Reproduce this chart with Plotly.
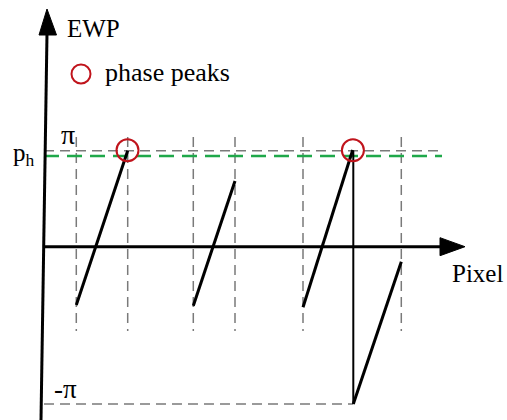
import plotly.graph_objects as go

# Wrapped phase (EWP) along the pixel axis, in drawing units
# (origin where the axes cross, y grows upward)
PI_LEVEL = 96.0
NEG_PI_LEVEL = -157.3
PH_LEVEL = 90.7

# pixel positions of the dashed guides
guide_x = [32.3, 83.7, 149.3, 191.0, 259.0, 357.3]
guide_top = 109.7
guide_bottom = -84.3

# phase ramps: start/end pixel and start/end phase
ramp_x0 = [32.3, 149.3, 259.0, 309.3]
ramp_x1 = [83.7, 191.0, 308.7, 357.3]
ramp_y0 = [-58.3, -59.0, -60.6, NEG_PI_LEVEL]
ramp_y1 = [96.0, 65.7, 96.7, -15.0]

# wrap jump (from +pi down to -pi)
jump_x = 309.3

# detected phase peaks
peak_x = [83.5, 308.9]
peak_y = [96.5, 96.5]

X_RANGE = [-44, 463]
Y_RANGE = [-173.3, 246.7]

SERIF = "Liberation Serif, Times New Roman, serif"
GRAY = "#7a7a7a"
GREEN = "#1fa84a"
RED = "#c0141c"

fig = go.Figure()

# dashed vertical guides
for gx in guide_x:
    fig.add_trace(go.Scatter(
        x=[gx, gx], y=[guide_top, guide_bottom], mode="lines",
        line=dict(color=GRAY, width=1.5, dash="10px,6px"),
        hoverinfo="skip", showlegend=False))

# +pi and -pi dashed levels
fig.add_trace(go.Scatter(
    x=[0, 398], y=[PI_LEVEL, PI_LEVEL], mode="lines",
    line=dict(color=GRAY, width=1.5, dash="10px,6px"),
    hoverinfo="skip", showlegend=False))
fig.add_trace(go.Scatter(
    x=[0, jump_x], y=[NEG_PI_LEVEL, NEG_PI_LEVEL], mode="lines",
    line=dict(color=GRAY, width=1.5, dash="10px,6px"),
    hoverinfo="skip", showlegend=False))

# threshold p_h
fig.add_trace(go.Scatter(
    x=[0, 398], y=[PH_LEVEL, PH_LEVEL], mode="lines",
    line=dict(color=GREEN, width=2.5, dash="15px,8px"),
    hoverinfo="skip", showlegend=False))

# wrap jump
fig.add_trace(go.Scatter(
    x=[jump_x, jump_x], y=[PI_LEVEL, NEG_PI_LEVEL], mode="lines",
    line=dict(color="black", width=2),
    hoverinfo="skip", showlegend=False))

# phase ramps
for x0, x1, y0, y1 in zip(ramp_x0, ramp_x1, ramp_y0, ramp_y1):
    fig.add_trace(go.Scatter(
        x=[x0, x1], y=[y0, y1], mode="lines",
        line=dict(color="black", width=3),
        hoverinfo="skip", showlegend=False))

# axes with arrowheads
fig.add_trace(go.Scatter(
    x=[0, 396], y=[0, 0], mode="lines",
    line=dict(color="black", width=3), hoverinfo="skip", showlegend=False))
fig.add_trace(go.Scatter(
    x=[396, 421, 396, 396], y=[9, 0, -9, 9], mode="lines", fill="toself",
    fillcolor="black", line=dict(color="black", width=1),
    hoverinfo="skip", showlegend=False))
fig.add_trace(go.Scatter(
    x=[3, -3], y=[213, -173.3], mode="lines",
    line=dict(color="black", width=3), hoverinfo="skip", showlegend=False))
fig.add_trace(go.Scatter(
    x=[-5, 3, 12.5, -5], y=[211.7, 237.7, 211.7, 211.7], mode="lines",
    fill="toself", fillcolor="black", line=dict(color="black", width=1),
    hoverinfo="skip", showlegend=False))

# peaks
fig.add_trace(go.Scatter(
    x=peak_x, y=peak_y, mode="markers",
    marker=dict(symbol="circle-open", size=22, color=RED, line=dict(width=2)),
    hoverinfo="skip", showlegend=False))

# legend entry
fig.add_trace(go.Scatter(
    x=[37], y=[172.7], mode="markers",
    marker=dict(symbol="circle-open", size=19, color=RED, line=dict(width=2)),
    hoverinfo="skip", showlegend=False))

def label(text, x, y, size, xanchor="left", family=SERIF):
    fig.add_annotation(x=x, y=y, xref="x", yref="y", text=text,
                       showarrow=False, xanchor=xanchor, yanchor="middle",
                       font=dict(family=family, size=size, color="black"))

label("EWP", 21, 218.7, 25)
label("phase peaks", 59, 174.0, 26)
label("π", 24, 112.0, 28, xanchor="center")
label("p<sub>h</sub>", -33, 92.5, 25)
label("-π", 8, -142.0, 27)
label("Pixel", 406, -26.3, 25)

fig.update_layout(
    width=507, height=420,
    margin=dict(l=0, r=0, t=0, b=0),
    paper_bgcolor="white", plot_bgcolor="white",
    xaxis=dict(range=X_RANGE, visible=False, fixedrange=True),
    yaxis=dict(range=Y_RANGE, visible=False, fixedrange=True),
    showlegend=False,
)

fig.write_html("out.html")
